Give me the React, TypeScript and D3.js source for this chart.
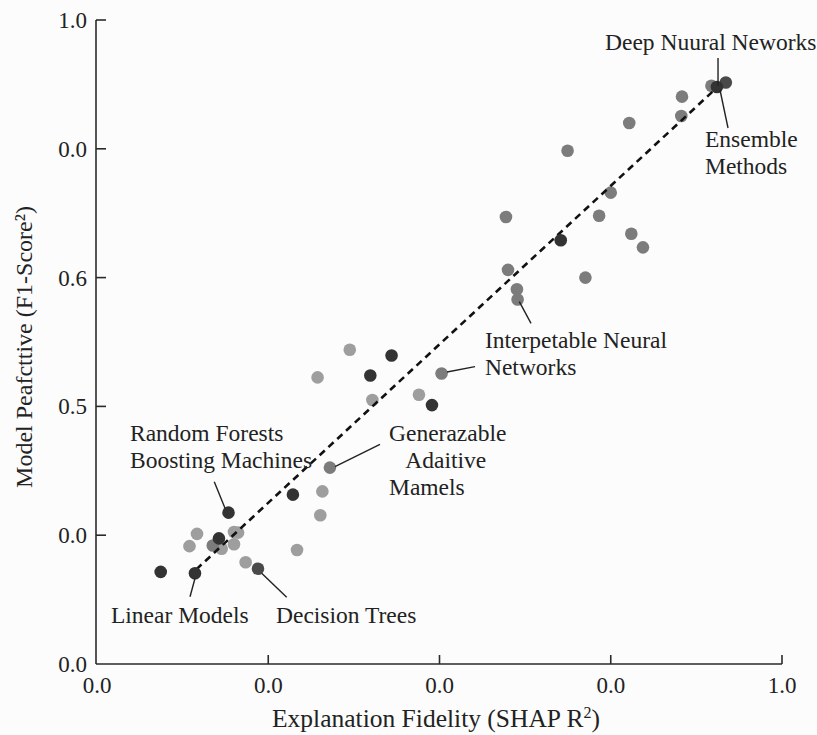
import React from "react";
import * as d3 from "d3";

// shade groups of models: [explanation fidelity, F1]
const darkModels: [number, number][] = [
  [0.093, 0.143], [0.143, 0.141], [0.178, 0.195], [0.192, 0.235],
  [0.286, 0.263], [0.399, 0.448], [0.43, 0.479], [0.489, 0.402],
  [0.677, 0.658], [0.905, 0.896],
];
const darkMidModels: [number, number][] = [
  [0.235, 0.148], [0.918, 0.903],
];
const mediumModels: [number, number][] = [
  [0.503, 0.451], [0.34, 0.305], [0.169, 0.184], [0.687, 0.797],
  [0.597, 0.694], [0.75, 0.732], [0.733, 0.696], [0.78, 0.668],
  [0.797, 0.647], [0.6, 0.612], [0.713, 0.6], [0.613, 0.582],
  [0.614, 0.566], [0.854, 0.881], [0.853, 0.851], [0.777, 0.84],
  [0.897, 0.898],
];
const lightModels: [number, number][] = [
  [0.146, 0.202], [0.135, 0.183], [0.2, 0.205], [0.206, 0.204],
  [0.182, 0.179], [0.2, 0.186], [0.217, 0.158], [0.329, 0.268],
  [0.326, 0.231], [0.292, 0.177], [0.369, 0.488], [0.322, 0.445],
  [0.402, 0.41], [0.47, 0.418],
];

const trend: [number, number][] = [[0.145, 0.147], [0.905, 0.895]];

const xTickValues = [0, 0.25, 0.5, 0.75, 1];
const xTickLabels = ["0.0", "0.0", "0.0", "0.0", "1.0"];
const yTickValues = [0, 0.2, 0.4, 0.6, 0.8, 1];
const yTickLabels = ["0.0", "0.0", "0.5", "0.6", "0.0", "1.0"];

const annotations = [
  { lines: ["Deep Nuural Neworks"], at: [0.7416, 0.9534], leader: [[0.9066, 0.941], [0.9066, 0.8975]] },
  { lines: ["Ensemble", "Methods"], at: [0.8876, 0.8028], leader: [[0.9095, 0.8913], [0.9212, 0.8323]] },
  { lines: ["Interpetable Neural", "Networks"], at: [0.5664, 0.4907], leader: [[0.511, 0.4534], [0.5518, 0.4617]] },
  { lines: ["", ""], at: [0.5664, 0.4907], leader: [[0.6165, 0.5626], [0.6336, 0.529]] },
  { lines: ["Generazable", "   Adaitive", "Mamels"], at: [0.4263, 0.3463], leader: [[0.3474, 0.3064], [0.4131, 0.3412]] },
  { lines: ["Random Forests", "Boosting Machines"], at: [0.0482, 0.3463], leader: [[0.1869, 0.2418], [0.1712, 0.2831]] },
  { lines: ["Linear Models"], at: [0.0204, 0.0637], leader: [[0.1431, 0.1331], [0.1358, 0.1045]] },
  { lines: ["Decision Trees"], at: [0.2613, 0.0637], leader: [[0.2404, 0.1408], [0.2769, 0.1036]] },
];

const W = 817;
const H = 735;
const font = "'Liberation Serif', 'DejaVu Serif', serif";

export default function App() {
  const x = d3.scaleLinear().domain([0, 1]).range([97, 782]);
  const y = d3.scaleLinear().domain([0, 1]).range([664, 20]);
  const line = d3.line<[number, number]>().x((d) => x(d[0])).y((d) => y(d[1]));

  const dots = (pts: [number, number][], fill: string) =>
    pts.map((p, i) => <circle key={fill + i} cx={x(p[0])} cy={y(p[1])} r={6.3} fill={fill} />);

  return (
    <svg width={W} height={H} style={{ position: "absolute", left: 0, top: 0, background: "#fcfcfc" }} fontFamily={font}>
      {/* axes */}
      <line x1={x(0) - 1} x2={x(1)} y1={y(0)} y2={y(0)} stroke="#2a2a2a" strokeWidth={1.6} />
      <line x1={x(0) - 1} x2={x(0) - 1} y1={y(0)} y2={y(1)} stroke="#2a2a2a" strokeWidth={1.6} />
      {yTickValues.map((v, i) => (
        <g key={"y" + i}>
          {v > 0 && <line x1={x(0) - 1} x2={x(0) + 9} y1={y(v)} y2={y(v)} stroke="#2a2a2a" strokeWidth={1.6} />}
          <text x={x(0) - 10} y={y(v)} dy="0.35em" textAnchor="end" fontSize={23} fill="#222">{yTickLabels[i]}</text>
        </g>
      ))}
      {xTickValues.map((v, i) => (
        <g key={"x" + i}>
          {v > 0 && <line x1={x(v)} x2={x(v)} y1={y(0)} y2={y(0) - 9} stroke="#2a2a2a" strokeWidth={1.6} />}
          <text x={x(v)} y={693} textAnchor="middle" fontSize={23} fill="#222">{xTickLabels[i]}</text>
        </g>
      ))}
      <text x={436} y={727} textAnchor="middle" fontSize={25.5} fill="#222">
        Explanation Fidelity (SHAP R<tspan dy="-9" fontSize={16}>2</tspan><tspan dy="9">)</tspan>
      </text>
      <text transform={`translate(32,347) rotate(-90)`} textAnchor="middle" fontSize={24} fill="#222">
        Model Peafcttive (F1-Score²)
      </text>

      {/* points */}
      {dots(lightModels, "#9e9e9e")}
      {dots(mediumModels, "#7c7c7c")}
      <path d={line(trend) ?? ""} fill="none" stroke="#111" strokeWidth={2.6} strokeDasharray="7,5" />
      {dots(darkMidModels, "#4a4a4a")}
      {dots(darkModels, "#333333")}

      {/* annotations */}
      {annotations.map((a, i) => (
        <g key={"a" + i}>
          <line x1={x(a.leader[0][0])} y1={y(a.leader[0][1])} x2={x(a.leader[1][0])} y2={y(a.leader[1][1])} stroke="#222" strokeWidth={1.4} />
          <text x={x(a.at[0])} y={y(a.at[1])} fontSize={23.5} fill="#222" style={{ whiteSpace: "pre" }}>
            {a.lines.map((l, j) => (
              <tspan key={j} x={x(a.at[0])} dy={j === 0 ? 0 : 27}>{l}</tspan>
            ))}
          </text>
        </g>
      ))}
    </svg>
  );
}
